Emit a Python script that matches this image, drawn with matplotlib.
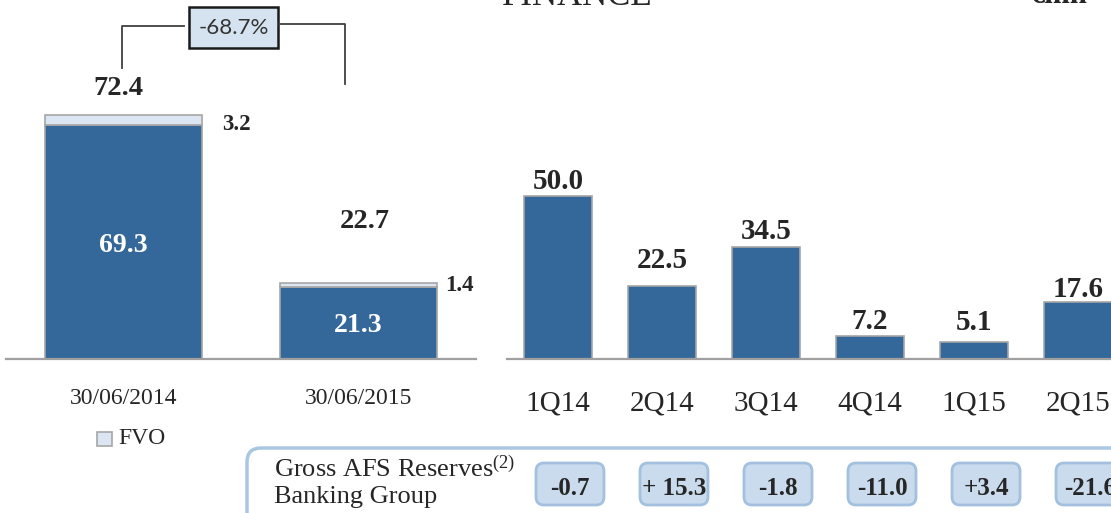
import matplotlib
matplotlib.use("Agg")
import matplotlib.pyplot as plt
from matplotlib.lines import Line2D
from matplotlib.patches import FancyBboxPatch, Rectangle
from matplotlib.transforms import Affine2D

# stock of bonds, left panel
stock_dates = ["30/06/2014", "30/06/2015"]
stock_core = [69.3, 21.3]
stock_fvo = [3.2, 1.4]
stock_total = [72.4, 22.7]
stock_change = "-68.7%"

# quarterly flow, right panel
quarters = ["1Q14", "2Q14", "3Q14", "4Q14", "1Q15", "2Q15"]
quarter_values = [50.0, 22.5, 34.5, 7.2, 5.1, 17.6]
afs_reserves = ["-0.7", "+ 15.3", "-1.8", "-11.0", "+3.4", "-21.6"]

W, H, DPI = 1111, 513, 100
BLUE = "#34679a"
FVO_FILL = "#dce6f2"
EDGE = "#a6a6a6"
TEXT = "#262626"
SERIF = "Liberation Serif"

plt.rcParams["font.family"] = SERIF
plt.rcParams["mathtext.fontset"] = "custom"
plt.rcParams["mathtext.rm"] = SERIF
plt.rcParams["mathtext.it"] = SERIF

fig = plt.figure(figsize=(W / DPI, H / DPI), dpi=DPI)
# pixel coordinates measured from the top-left corner
px = Affine2D().scale(1 / DPI, -1 / DPI).translate(0, H / DPI) + fig.dpi_scale_trans


def axes_px(x0, x1, y0, y1):
    return fig.add_axes([x0 / W, 1 - y1 / H, (x1 - x0) / W, (y1 - y0) / H])


def style_axis(ax):
    for side in ("top", "left", "right"):
        ax.spines[side].set_visible(False)
    ax.spines["bottom"].set_color("#a0a0a0")
    ax.spines["bottom"].set_linewidth(1.6)
    ax.set_yticks([])
    ax.patch.set_alpha(0)


BASE = 359
ax1 = axes_px(6, 476, 0, BASE)
ax2 = axes_px(507, W, 0, BASE)

# left panel: stacked bars
x1 = range(len(stock_dates))
ax1.bar(x1, stock_core, 0.664, color=BLUE, edgecolor=EDGE, linewidth=1.2)
ax1.bar(x1, stock_fvo, 0.664, bottom=stock_core, color=FVO_FILL,
        edgecolor=EDGE, linewidth=1.2)
ax1.set_xlim(-0.5, 1.5)
ax1.set_ylim(0, BASE / 3.37)
style_axis(ax1)
ax1.set_xticks(list(x1), stock_dates)
ax1.tick_params(axis="x", length=0, pad=21, labelsize=17, labelcolor=TEXT)

total_off = [(-3.6, 14.4), (4.3, 39.6)]
fvo_off = [(15, -11), (6, -6)]
for i in x1:
    ax1.annotate(f"{stock_total[i]:.1f}", (i, stock_total[i]), xytext=total_off[i],
                 textcoords="offset points", ha="center", va="baseline",
                 fontsize=20.5, fontweight="bold", color=TEXT)
    ax1.annotate(f"{stock_fvo[i]:.1f}", (i + 0.332, stock_total[i]), xytext=fvo_off[i],
                 textcoords="offset points", ha="left", va="baseline",
                 fontsize=16.5, fontweight="bold", color=TEXT)
    ax1.annotate(f"{stock_core[i]:.1f}", (i, stock_core[i] / 2), xytext=(0, -2),
                 textcoords="offset points", ha="center", va="center",
                 fontsize=20, fontweight="bold", color="white")

# right panel: quarterly bars
x2 = range(len(quarters))
ax2.bar(x2, quarter_values, 0.66, color=BLUE, edgecolor=EDGE, linewidth=1.2)
ax2.set_xlim(-0.49, 5.317)
ax2.set_ylim(0, BASE / 3.26)
style_axis(ax2)
ax2.set_xticks(list(x2), quarters)
ax2.tick_params(axis="x", length=0, pad=23, labelsize=21, labelcolor=TEXT)

gaps = [7, 18, 8, 7, 12, 5]
for i in x2:
    ax2.annotate(f"{quarter_values[i]:.1f}", (i, quarter_values[i]),
                 xytext=(0, gaps[i] * 0.72), textcoords="offset points",
                 ha="center", va="baseline", fontsize=21, fontweight="bold", color=TEXT)

# change bracket between the two stock bars
fig.add_artist(Line2D([122, 122, 184], [68, 26, 26], transform=px, color="#404040", lw=1.3))
fig.add_artist(Line2D([279, 345, 345], [24, 24, 84], transform=px, color="#404040", lw=1.3))
fig.add_artist(Rectangle((189, 7), 89, 41, transform=px, facecolor="#d5e3f1",
                         edgecolor="#1a1a1a", lw=1.8))
fig.text(233.5, 28, stock_change, transform=px, ha="center", va="center",
         fontsize=16, family="Lato", color="#333333")

# legend
fig.add_artist(Rectangle((97, 432), 15, 14, transform=px, facecolor=FVO_FILL,
                         edgecolor=EDGE, lw=1.2))
fig.text(118, 439, "FVO", transform=px, ha="left", va="center", fontsize=17, color=TEXT)

# slide remnants at the top edge
fig.text(502, 5, "FINANCE", transform=px, ha="left", va="baseline", fontsize=25, color=TEXT)
fig.text(1030, 3, "€mn", transform=px, ha="left", va="baseline", fontsize=22,
         fontweight="bold", color=TEXT)

# AFS reserves strip
fig.add_artist(FancyBboxPatch((247, 448), 950, 120, boxstyle="round,pad=0,rounding_size=14",
                              transform=px, facecolor="none", edgecolor="#a9c6e3", lw=2.5))
fig.text(274, 477, "Gross AFS Reserves$^{(2)}$", transform=px, ha="left", va="baseline",
         fontsize=19, color=TEXT)
fig.text(274, 503, "Banking Group", transform=px, ha="left", va="baseline",
         fontsize=19, color=TEXT)

for i in x2:
    cx = ax2.transData.transform((i, 0))[0] + 12
    fig.add_artist(FancyBboxPatch((cx - 34, 463), 68, 42,
                                  boxstyle="round,pad=0,rounding_size=8", transform=px,
                                  facecolor="#c9dbec", edgecolor="#a3c1df", lw=2))
    fig.text(cx, 495, afs_reserves[i], transform=px, ha="center", va="baseline",
             fontsize=18, fontweight="bold", color=TEXT)

fig.savefig("out.png", dpi=DPI)
